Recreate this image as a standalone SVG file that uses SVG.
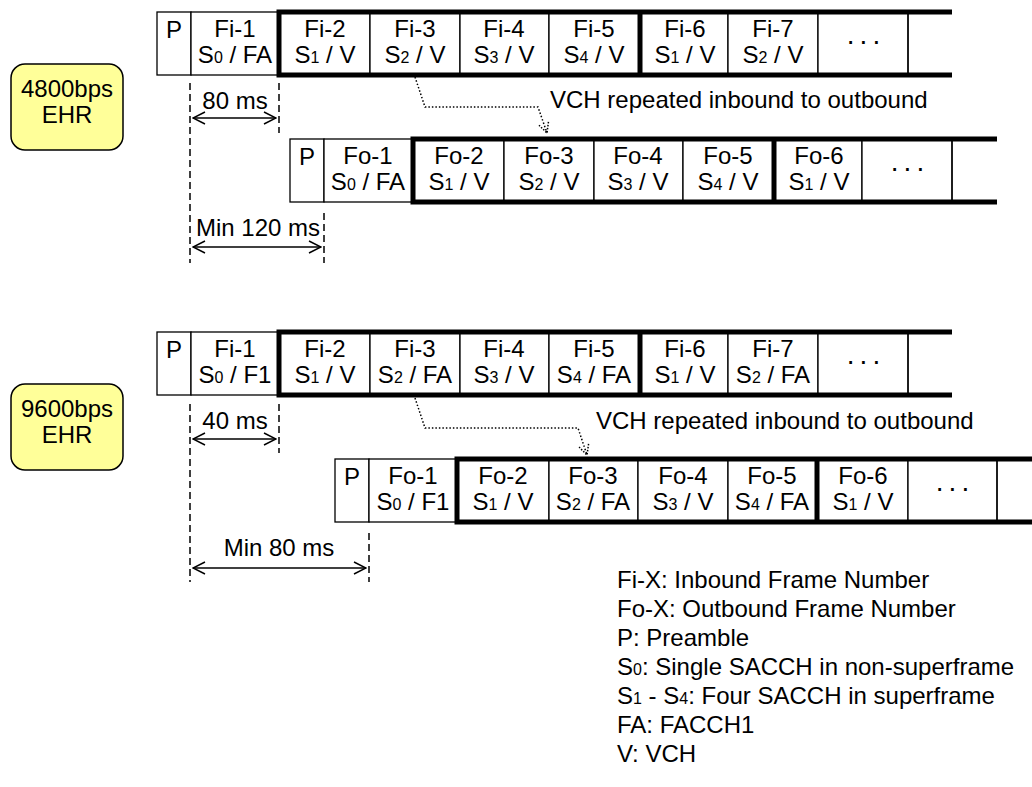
<svg xmlns="http://www.w3.org/2000/svg" width="1032" height="787" viewBox="0 0 1032 787">
<style>
.t{font-family:"Liberation Sans",Arial,sans-serif;font-size:24px;fill:#000;text-anchor:middle}
.l{font-family:"Liberation Sans",Arial,sans-serif;font-size:24px;fill:#000}
.s{font-size:16px}
.e{font-size:28px;letter-spacing:5px}
.c{fill:#fff;stroke:#000;stroke-width:1.3}
.v{fill:none;stroke:#000;stroke-width:1.3}
.k{fill:none;stroke:#000;stroke-width:5}
.dash{fill:none;stroke:#000;stroke-width:1.5;stroke-dasharray:7 4}
.dim{fill:none;stroke:#000;stroke-width:1.5;marker-start:url(#a);marker-end:url(#a)}
.dot{fill:none;stroke:#000;stroke-width:1.5;stroke-dasharray:1.5 2;marker-end:url(#d)}
.y{fill:#FFFF99;stroke:#000;stroke-width:1.5}
</style>
<defs>
<marker id="a" viewBox="0 0 14 14" refX="13" refY="7" markerWidth="14" markerHeight="14" markerUnits="userSpaceOnUse" orient="auto-start-reverse"><path d="M1,1 L13,7 L1,13" fill="none" stroke="#000" stroke-width="1.5"/></marker>
<marker id="d" viewBox="0 0 12 12" refX="11" refY="6" markerWidth="12" markerHeight="12" markerUnits="userSpaceOnUse" orient="auto"><path d="M1,1 L11,6 L1,11" fill="none" stroke="#000" stroke-width="1.5" stroke-dasharray="1.5 1.5"/></marker>
</defs>

<g id="rate4800"><rect class="y" x="11" y="64" width="112" height="86" rx="14"/><text class="t" x="67" y="97">4800bps</text><text class="t" x="67" y="123">EHR</text></g>
<g id="rate9600"><rect class="y" x="11" y="384" width="112" height="86" rx="14"/><text class="t" x="67" y="417">9600bps</text><text class="t" x="67" y="443">EHR</text></g>

<!-- inbound 4800 -->
<g id="in1">
<g id="in1-p"><rect class="c" x="157" y="12" width="34" height="63"/><text class="t" x="174" y="38">P</text></g>
<g id="in1-f1"><rect class="c" x="191" y="12" width="88" height="63"/><text class="t" x="235" y="37">Fi-1</text><text class="t" x="235" y="63">S<tspan class="s">0</tspan> / FA</text></g>
<g id="in1-f2"><rect class="c" x="279" y="12" width="91" height="63"/><text class="t" x="325" y="37">Fi-2</text><text class="t" x="325" y="63">S<tspan class="s">1</tspan> / V</text></g>
<g id="in1-f3"><rect class="c" x="370" y="12" width="90" height="63"/><text class="t" x="415" y="37">Fi-3</text><text class="t" x="415" y="63">S<tspan class="s">2</tspan> / V</text></g>
<g id="in1-f4"><rect class="c" x="460" y="12" width="89" height="63"/><text class="t" x="504" y="37">Fi-4</text><text class="t" x="504" y="63">S<tspan class="s">3</tspan> / V</text></g>
<g id="in1-f5"><rect class="c" x="549" y="12" width="91" height="63"/><text class="t" x="594" y="37">Fi-5</text><text class="t" x="594" y="63">S<tspan class="s">4</tspan> / V</text></g>
<g id="in1-f6"><rect class="c" x="640" y="12" width="88" height="63"/><text class="t" x="685" y="37">Fi-6</text><text class="t" x="685" y="63">S<tspan class="s">1</tspan> / V</text></g>
<g id="in1-f7"><rect class="c" x="728" y="12" width="90" height="63"/><text class="t" x="773" y="37">Fi-7</text><text class="t" x="773" y="63">S<tspan class="s">2</tspan> / V</text></g>
<g id="in1-more"><rect class="c" x="818" y="12" width="90" height="63"/><text class="t e" x="866" y="44">...</text></g>
<g id="in1-last"><path class="v" d="M908,12 V75"/></g>
<path class="k" d="M952,12 H279 V75 H952 M640,12 V75"/>
</g>

<!-- outbound 4800 -->
<g id="out1">
<g id="out1-p"><rect class="c" x="290" y="139" width="34" height="63"/><text class="t" x="307" y="165">P</text></g>
<g id="out1-f1"><rect class="c" x="324" y="139" width="89" height="63"/><text class="t" x="368" y="164">Fo-1</text><text class="t" x="368" y="190">S<tspan class="s">0</tspan> / FA</text></g>
<g id="out1-f2"><rect class="c" x="413" y="139" width="91" height="63"/><text class="t" x="459" y="164">Fo-2</text><text class="t" x="459" y="190">S<tspan class="s">1</tspan> / V</text></g>
<g id="out1-f3"><rect class="c" x="504" y="139" width="90" height="63"/><text class="t" x="549" y="164">Fo-3</text><text class="t" x="549" y="190">S<tspan class="s">2</tspan> / V</text></g>
<g id="out1-f4"><rect class="c" x="594" y="139" width="89" height="63"/><text class="t" x="638" y="164">Fo-4</text><text class="t" x="638" y="190">S<tspan class="s">3</tspan> / V</text></g>
<g id="out1-f5"><rect class="c" x="683" y="139" width="91" height="63"/><text class="t" x="728" y="164">Fo-5</text><text class="t" x="728" y="190">S<tspan class="s">4</tspan> / V</text></g>
<g id="out1-f6"><rect class="c" x="774" y="139" width="88" height="63"/><text class="t" x="819" y="164">Fo-6</text><text class="t" x="819" y="190">S<tspan class="s">1</tspan> / V</text></g>
<g id="out1-more"><rect class="c" x="862" y="139" width="90" height="63"/><text class="t e" x="910" y="171">...</text></g>
<g id="out1-last"><path class="v" d="M952,139 V202"/></g>
<path class="k" d="M997,139 H413 V202 H997 M774,139 V202"/>
</g>

<!-- inbound 9600 -->
<g id="in2">
<g id="in2-p"><rect class="c" x="157" y="332" width="34" height="63"/><text class="t" x="174" y="358">P</text></g>
<g id="in2-f1"><rect class="c" x="191" y="332" width="88" height="63"/><text class="t" x="235" y="357">Fi-1</text><text class="t" x="235" y="383">S<tspan class="s">0</tspan> / F1</text></g>
<g id="in2-f2"><rect class="c" x="279" y="332" width="91" height="63"/><text class="t" x="325" y="357">Fi-2</text><text class="t" x="325" y="383">S<tspan class="s">1</tspan> / V</text></g>
<g id="in2-f3"><rect class="c" x="370" y="332" width="90" height="63"/><text class="t" x="415" y="357">Fi-3</text><text class="t" x="415" y="383">S<tspan class="s">2</tspan> / FA</text></g>
<g id="in2-f4"><rect class="c" x="460" y="332" width="89" height="63"/><text class="t" x="504" y="357">Fi-4</text><text class="t" x="504" y="383">S<tspan class="s">3</tspan> / V</text></g>
<g id="in2-f5"><rect class="c" x="549" y="332" width="91" height="63"/><text class="t" x="594" y="357">Fi-5</text><text class="t" x="594" y="383">S<tspan class="s">4</tspan> / FA</text></g>
<g id="in2-f6"><rect class="c" x="640" y="332" width="88" height="63"/><text class="t" x="685" y="357">Fi-6</text><text class="t" x="685" y="383">S<tspan class="s">1</tspan> / V</text></g>
<g id="in2-f7"><rect class="c" x="728" y="332" width="90" height="63"/><text class="t" x="773" y="357">Fi-7</text><text class="t" x="773" y="383">S<tspan class="s">2</tspan> / FA</text></g>
<g id="in2-more"><rect class="c" x="818" y="332" width="90" height="63"/><text class="t e" x="866" y="364">...</text></g>
<g id="in2-last"><path class="v" d="M908,332 V395"/></g>
<path class="k" d="M952,332 H279 V395 H952 M640,332 V395"/>
</g>

<!-- outbound 9600 -->
<g id="out2">
<g id="out2-p"><rect class="c" x="335" y="459" width="34" height="63"/><text class="t" x="352" y="485">P</text></g>
<g id="out2-f1"><rect class="c" x="369" y="459" width="88" height="63"/><text class="t" x="413" y="484">Fo-1</text><text class="t" x="413" y="510">S<tspan class="s">0</tspan> / F1</text></g>
<g id="out2-f2"><rect class="c" x="457" y="459" width="92" height="63"/><text class="t" x="503" y="484">Fo-2</text><text class="t" x="503" y="510">S<tspan class="s">1</tspan> / V</text></g>
<g id="out2-f3"><rect class="c" x="549" y="459" width="89" height="63"/><text class="t" x="593" y="484">Fo-3</text><text class="t" x="593" y="510">S<tspan class="s">2</tspan> / FA</text></g>
<g id="out2-f4"><rect class="c" x="638" y="459" width="90" height="63"/><text class="t" x="683" y="484">Fo-4</text><text class="t" x="683" y="510">S<tspan class="s">3</tspan> / V</text></g>
<g id="out2-f5"><rect class="c" x="728" y="459" width="89" height="63"/><text class="t" x="772" y="484">Fo-5</text><text class="t" x="772" y="510">S<tspan class="s">4</tspan> / FA</text></g>
<g id="out2-f6"><rect class="c" x="817" y="459" width="91" height="63"/><text class="t" x="863" y="484">Fo-6</text><text class="t" x="863" y="510">S<tspan class="s">1</tspan> / V</text></g>
<g id="out2-more"><rect class="c" x="908" y="459" width="89" height="63"/><text class="t e" x="955" y="491">...</text></g>
<g id="out2-last"><path class="v" d="M997,459 V522"/></g>
<path class="k" d="M1040,459 H457 V522 H1040 M817,459 V522"/>
</g>

<g id="connectors">
<path class="dash" d="M190,83 V263 M279,83 V133 M324,213 V263"/>
<path class="dash" d="M190,404 V582 M279,404 V453 M369,533 V582"/>
<path class="dim" d="M193,118 H276"/>
<path class="dim" d="M193,247 H321"/>
<path class="dim" d="M193,439 H276"/>
<path class="dim" d="M193,568 H366"/>
<path class="dot" d="M415,77 L425,107 L538,107 L547,133"/>
<path class="dot" d="M415,398 L425,428 L578,428 L587,455"/>
</g>

<g id="labels">
<text class="t" x="235" y="109">80 ms</text>
<text class="l" x="196" y="236">Min 120 ms</text>
<text class="t" x="235" y="429">40 ms</text>
<text class="t" x="279" y="556">Min 80 ms</text>
<text class="l" x="550" y="108">VCH repeated inbound to outbound</text>
<text class="l" x="596" y="429">VCH repeated inbound to outbound</text>
</g>

<g id="legend">
<text class="l" x="617" y="588">Fi-X: Inbound Frame Number</text>
<text class="l" x="617" y="617">Fo-X: Outbound Frame Number</text>
<text class="l" x="617" y="646">P: Preamble</text>
<text class="l" x="617" y="675">S<tspan class="s">0</tspan>: Single SACCH in non-superframe</text>
<text class="l" x="617" y="704">S<tspan class="s">1</tspan> - S<tspan class="s">4</tspan>: Four SACCH in superframe</text>
<text class="l" x="617" y="733">FA: FACCH1</text>
<text class="l" x="617" y="762">V: VCH</text>
</g>
</svg>
